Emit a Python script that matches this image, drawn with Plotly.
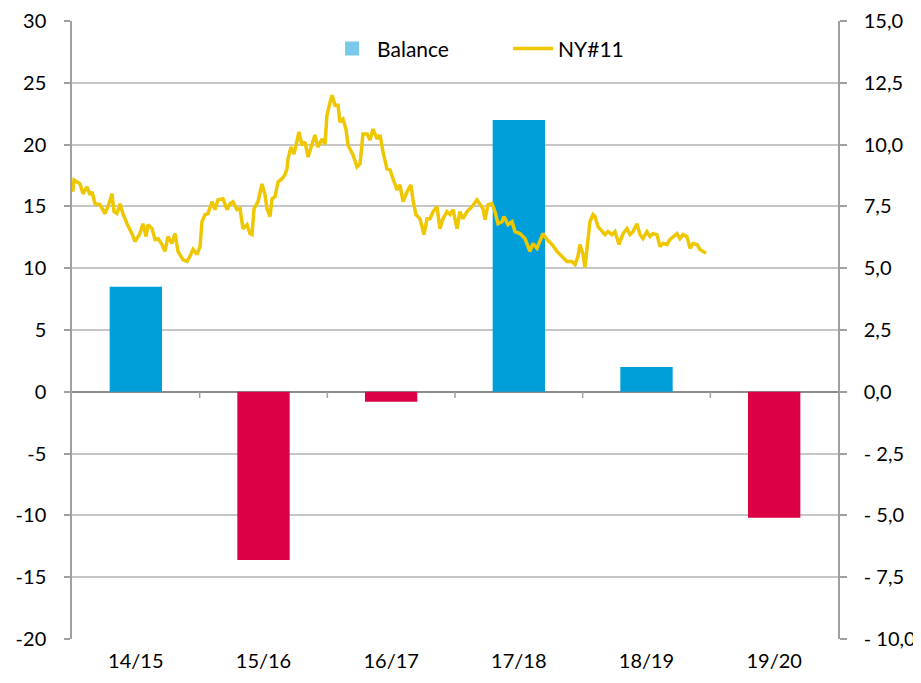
import plotly.graph_objects as go

# ---- data ----
seasons = ["14/15", "15/16", "16/17", "17/18", "18/19", "19/20"]
balance = [8.5, -13.6, -0.8, 22.0, 2.0, -10.2]

# NY#11 price; position measured in seasons from start of 14/15
ny11_pos = [0.005, 0.016, 0.063, 0.086, 0.117, 0.141, 0.157, 0.180, 0.219, 0.258,
            0.282, 0.313, 0.329, 0.352, 0.376, 0.399, 0.431, 0.470, 0.493, 0.532,
            0.556, 0.580, 0.595, 0.627, 0.650, 0.674, 0.705, 0.728, 0.752, 0.783,
            0.807, 0.830, 0.869, 0.901, 0.924, 0.948, 0.979, 1.003, 1.018, 1.042,
            1.065, 1.097, 1.120, 1.144, 1.183, 1.214, 1.238, 1.261, 1.292, 1.316,
            1.339, 1.371, 1.394, 1.410, 1.426, 1.457, 1.488, 1.512, 1.527, 1.551,
            1.567, 1.590, 1.614, 1.645, 1.668, 1.684, 1.692, 1.715, 1.739, 1.762,
            1.778, 1.801, 1.825, 1.849, 1.880, 1.903, 1.927, 1.958, 1.982, 1.997,
            2.021, 2.037, 2.060, 2.084, 2.099, 2.123, 2.146, 2.162, 2.201, 2.232,
            2.256, 2.279, 2.311, 2.334, 2.358, 2.389, 2.413, 2.436, 2.467, 2.491,
            2.514, 2.546, 2.569, 2.593, 2.624, 2.655, 2.671, 2.694, 2.726, 2.757,
            2.781, 2.804, 2.828, 2.859, 2.882, 2.906, 2.937, 2.961, 2.984, 3.016,
            3.039, 3.063, 3.094, 3.133, 3.172, 3.196, 3.219, 3.235, 3.259, 3.290,
            3.313, 3.337, 3.368, 3.384, 3.415, 3.447, 3.470, 3.509, 3.548, 3.587,
            3.611, 3.642, 3.666, 3.689, 3.721, 3.760, 3.799, 3.838, 3.877, 3.916,
            3.940, 3.963, 3.979, 4.003, 4.018, 4.034, 4.057, 4.081, 4.097, 4.120,
            4.151, 4.175, 4.198, 4.230, 4.253, 4.285, 4.316, 4.347, 4.371, 4.394,
            4.425, 4.449, 4.472, 4.503, 4.527, 4.551, 4.582, 4.606, 4.629, 4.660,
            4.684, 4.715, 4.739, 4.762, 4.786, 4.817, 4.841, 4.864, 4.895, 4.919,
            4.942, 4.966]
ny11_val = [8.09, 8.57, 8.41, 8.01, 8.29, 7.97, 8.09, 7.61, 7.57, 7.21,
            7.49, 8.01, 7.29, 7.21, 7.61, 7.21, 6.80, 6.40, 6.08, 6.40,
            6.80, 6.28, 6.76, 6.60, 6.16, 6.20, 5.96, 5.68, 6.28, 6.00,
            6.40, 5.68, 5.35, 5.27, 5.48, 5.76, 5.56, 5.88, 6.88, 7.17,
            7.21, 7.69, 7.37, 7.77, 7.81, 7.37, 7.61, 7.69, 7.37, 7.41,
            6.60, 6.76, 6.40, 6.36, 7.41, 7.69, 8.41, 7.97, 7.41, 7.09,
            7.81, 7.89, 8.49, 8.62, 8.78, 9.02, 9.42, 9.90, 9.62, 10.10,
            10.51, 9.98, 10.10, 9.50, 10.02, 10.39, 9.90, 10.23, 10.02, 11.19,
            11.71, 12.00, 11.59, 11.59, 10.91, 11.03, 10.63, 9.98, 9.58, 9.10,
            9.22, 10.43, 10.43, 10.19, 10.63, 10.23, 10.39, 9.70, 9.02, 8.98,
            8.62, 8.17, 8.37, 7.69, 8.09, 8.37, 7.77, 7.17, 7.00, 6.36,
            7.00, 7.00, 7.29, 7.49, 6.60, 7.00, 7.29, 7.17, 7.37, 6.60,
            7.29, 7.00, 7.29, 7.49, 7.77, 7.61, 7.41, 6.96, 7.57, 7.61,
            7.29, 6.80, 6.88, 7.09, 6.76, 6.88, 6.48, 6.40, 6.20, 5.68,
            6.00, 5.80, 6.08, 6.40, 6.16, 5.96, 5.68, 5.48, 5.27, 5.27,
            5.15, 5.48, 5.96, 5.56, 5.03, 5.80, 6.88, 7.17, 7.09, 6.68,
            6.48, 6.36, 6.48, 6.36, 6.48, 5.96, 6.40, 6.60, 6.36, 6.48,
            6.80, 6.36, 6.20, 6.48, 6.28, 6.40, 6.36, 5.88, 6.00, 5.96,
            6.16, 6.28, 6.40, 6.20, 6.36, 6.28, 5.80, 6.00, 5.96, 5.76,
            5.68, 5.60]

left_tickvals = [-20, -15, -10, -5, 0, 5, 10, 15, 20, 25, 30]
left_ticktext = ["-20", "-15", "-10", "-5", "0", "5", "10", "15", "20", "25", "30"]
right_tickvals = [-10, -7.5, -5, -2.5, 0, 2.5, 5, 7.5, 10, 12.5, 15]
right_ticktext = ["- 10,0", "- 7,5", "- 5,0", "- 2,5", "0,0", "2,5", "5,0",
                  "7,5", "10,0", "12,5", "15,0"]

# ---- styles ----
BLUE = "#009FDA"
RED = "#DC0045"
LEGEND_BLUE = "#7AC8EA"
YELLOW = "#EFC700"
GRID = "#C6C6C6"
AXIS = "#A0A0A0"
FONT = "Lato"

fig = go.Figure()

fig.add_trace(go.Bar(
    x=seasons, y=balance, width=0.41,
    marker=dict(color=[BLUE if v >= 0 else RED for v in balance], line=dict(width=0)),
    showlegend=False, name="Balance",
))
# legend proxy for Balance (light-blue square)
fig.add_trace(go.Scatter(
    x=[None], y=[None], mode="markers", name="Balance",
    marker=dict(symbol="square", size=14, color=LEGEND_BLUE),
))
fig.add_trace(go.Scatter(
    x=ny11_pos, y=ny11_val, mode="lines", name="NY#11",
    line=dict(color=YELLOW, width=3.5), xaxis="x2", yaxis="y2",
))

# small tick marks on the zero line at category boundaries
for i in range(1, len(seasons)):
    fig.add_shape(type="line", xref="x2", yref="y", x0=i, x1=i, y0=0, y1=-0.5,
                  line=dict(color=AXIS, width=1.5))

fig.update_layout(
    width=913, height=675,
    margin=dict(l=64, r=83, t=13, b=44),
    paper_bgcolor="white", plot_bgcolor="white",
    font=dict(family=FONT, size=20, color="#000000"),
    bargap=0.59,
    xaxis=dict(type="category", categoryorder="array", categoryarray=seasons,
               range=[-0.5, 5.5], showgrid=False, showline=False, zeroline=False,
               ticks="", ticklabelstandoff=8, tickfont=dict(size=20),
               automargin=False),
    xaxis2=dict(overlaying="x", range=[0, 6], visible=False, anchor="y2"),
    yaxis=dict(range=[-20, 30], tickvals=left_tickvals, ticktext=left_ticktext,
               showgrid=True, gridcolor=GRID, gridwidth=1.5,
               zeroline=True, zerolinecolor="#8C8C8C", zerolinewidth=1.5,
               showline=True, linecolor=AXIS, linewidth=1.5,
               ticks="outside", ticklen=6, tickcolor=AXIS, tickwidth=1.5,
               ticklabelstandoff=14, tickfont=dict(size=20), automargin=False,
               ticklabeloverflow="allow"),
    yaxis2=dict(overlaying="y", side="right", anchor="x", range=[-10, 15],
                tickvals=right_tickvals, ticktext=right_ticktext,
                showgrid=False, zeroline=False,
                showline=True, linecolor=AXIS, linewidth=1.5,
                ticks="outside", ticklen=7, tickcolor=AXIS, tickwidth=1.5,
                ticklabelstandoff=13, tickfont=dict(size=20), automargin=False,
                ticklabeloverflow="allow"),
    legend=dict(orientation="h", x=0.333, xanchor="left", y=0.955, yanchor="middle",
                font=dict(size=21), bgcolor="rgba(0,0,0,0)",
                entrywidth=126, entrywidthmode="pixels", itemwidth=40),
)

fig.write_html("out.html")
